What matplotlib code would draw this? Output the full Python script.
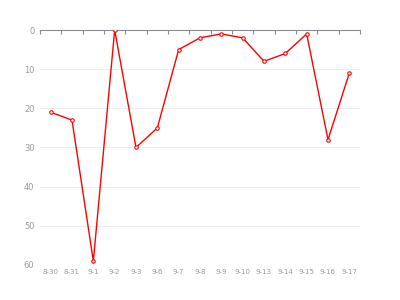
import matplotlib.pyplot as plt
import numpy as np

dates = ['8-30', '8-31', '9-1', '9-2', '9-3', '9-6', '9-7', '9-8', '9-9',
         '9-10', '9-13', '9-14', '9-15', '9-16', '9-17']
values = [21, 23, 59, 0, 30, 25, 5, 2, 1, 2, 8, 6, 1, 28, 11]
yticks = [0, 10, 20, 30, 40, 50, 60]

fig = plt.figure(figsize=(4, 3), dpi=100)
ax = fig.add_axes([0.1, 0.1167, 0.8, 0.7833])

x = np.arange(len(dates))
ax.plot(x, values, color='#ff0000', linewidth=1.0, marker='o', markersize=2.5,
        markerfacecolor='white', markeredgecolor='#ff0000', markeredgewidth=0.8,
        zorder=3)

ax.set_xlim(-0.5, len(dates) - 0.5)
ax.set_ylim(60, 0)

# grid lines
for v in yticks[1:]:
    ax.axhline(v, color='#EBEDF2', linewidth=0.8, zorder=1)

for s in ['left', 'right', 'bottom']:
    ax.spines[s].set_visible(False)
ax.spines['top'].set_color('#8A8C94')
ax.spines['top'].set_linewidth(0.8)

ax.set_yticks(yticks)
ax.set_yticklabels([str(v) for v in yticks], fontsize=6, color='#999999')
ax.tick_params(axis='y', length=0, pad=4)

ax.set_xticks(x)
ax.set_xticklabels(dates, fontsize=5, color='#999999')
ax.tick_params(axis='x', which='major', length=0, pad=3)
ax.set_xticks(np.arange(len(dates) + 1) - 0.5, minor=True)
ax.tick_params(axis='x', which='minor', bottom=False, top=True, direction='in',
               length=3, width=0.8, color='#8A8C94')

fig.savefig('out.png', dpi=100)
